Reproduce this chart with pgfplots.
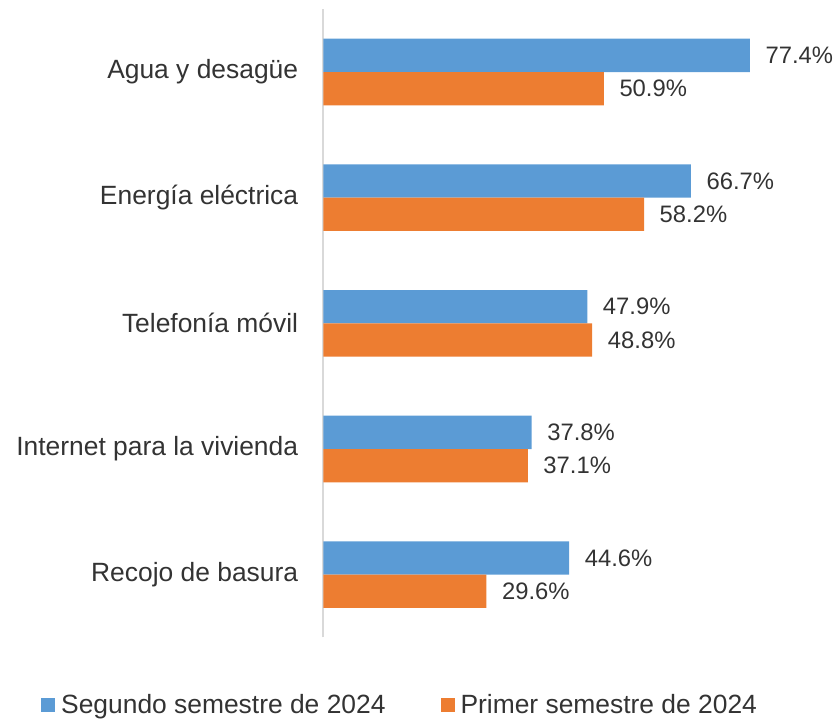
\documentclass[border=0pt]{standalone}
\usepackage{pgfplots}
\pgfplotsset{compat=1.18}
\usepackage{fontspec}
\setmainfont{Liberation Sans}
\definecolor{cblue}{HTML}{5B9BD5}
\definecolor{corange}{HTML}{ED7D31}
\definecolor{txt}{HTML}{333333}
\definecolor{axgray}{HTML}{D9D9D9}
\begin{document}
\begin{tikzpicture}
\useasboundingbox (0,0) rectangle (838pt,719pt);
\begin{axis}[
  at={(323.3pt,81.5pt)}, anchor=south west,
  scale only axis, width=496pt, height=628.3pt,
  xbar, bar width=0.265,
  xmin=0, xmax=90, ymin=-0.5, ymax=4.5,
  axis y line=left, axis x line=none,
  y axis line style={-, draw=axgray, line width=1.6pt},
  ytick={0,1,2,3,4},
  yticklabels={Recojo de basura, Internet para la vivienda, Telefonía móvil, Energía eléctrica, Agua y desagüe},
  major tick length=0pt,
  /pgf/number format/assume math mode=true,
  yticklabel style={font=\fontsize{26.4}{30}\selectfont, text=txt, inner sep=0pt, anchor=east, xshift=-25pt},
  nodes near coords={\pgfmathprintnumber[fixed,fixed zerofill,precision=1]{\pgfplotspointmeta}\%},
  nodes near coords align={horizontal},
  every node near coord/.append style={font=\fontsize{23.8}{28}\selectfont, text=txt, inner sep=0pt, xshift=15.5pt},
  clip=false,
  legend columns=2,
  legend style={at={(-0.5692,-0.1074)}, anchor=west, draw=none, fill=none, inner sep=0pt,
    font=\fontsize{26.4}{30}\selectfont, text=txt,
    nodes={inner sep=0pt},
    /tikz/every odd column/.append style={column sep=6pt},
    /tikz/every even column/.append style={column sep=55pt}},
  legend cell align=left,
  legend image code/.code={\draw[#1,draw=none] (0pt,-7pt) rectangle (14pt,7pt);},
]
\addplot[fill=cblue, draw=none, bar shift=0.1325] coordinates {(44.6,0) (37.8,1) (47.9,2) (66.7,3) (77.4,4)};
\addlegendentry{Segundo semestre de 2024}
\addplot[fill=corange, draw=none, bar shift=-0.1325] coordinates {(29.6,0) (37.1,1) (48.8,2) (58.2,3) (50.9,4)};
\addlegendentry{Primer semestre de 2024}
\end{axis}
\end{tikzpicture}
\end{document}
